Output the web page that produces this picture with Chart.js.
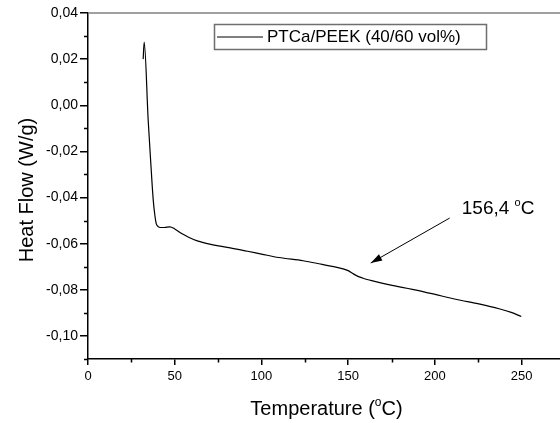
<!DOCTYPE html>
<html>
<head>
<meta charset="utf-8">
<script src="https://cdn.jsdelivr.net/npm/chart.js@4.4.1/dist/chart.umd.min.js"></script>
<style>
  html, body { margin: 0; padding: 0; background: #fff; overflow: hidden; }
  #wrap { position: relative; width: 580px; height: 423px; }
</style>
</head>
<body>
<div id="wrap"><canvas id="dscChart"></canvas></div>
<script>
// DSC curve
const temperature = [31.8, 32.4, 34.7, 36.2, 37.6, 38.6, 39.3, 40.3, 41.8, 44.0, 47.2, 50.0, 54.0, 58.0, 63.0, 72.0, 82.0, 92.0, 100.0, 110.0, 124.0, 134.0, 140.0, 147.0, 150.0, 153.0, 156.0, 159.0, 163.0, 174.0, 187.0, 199.0, 212.0, 226.0, 237.0, 244.0, 249.8];
const heatFlow = [0.0200, 0.0274, -0.0065, -0.0250, -0.0410, -0.0480, -0.0512, -0.0525, -0.0530, -0.0530, -0.0527, -0.0536, -0.0556, -0.0572, -0.0588, -0.0605, -0.0618, -0.0633, -0.0645, -0.0660, -0.0674, -0.0688, -0.0697, -0.0709, -0.0717, -0.0731, -0.0743, -0.0751, -0.0759, -0.0779, -0.0798, -0.0818, -0.0841, -0.0862, -0.0882, -0.0898, -0.0916];

const xTicks = [0, 50, 100, 150, 200, 250];
const xMinorTicks = [25, 75, 125, 175, 225];
const yTicks = [-0.10, -0.08, -0.06, -0.04, -0.02, 0.00, 0.02, 0.04];
const yMinorTicks = [-0.11, -0.09, -0.07, -0.05, -0.03, -0.01, 0.01, 0.03];

const seriesLabel = 'PTCa/PEEK (40/60 vol%)';
const noteText = '156,4 ';
const noteAt = [215.5, -0.0472];
const arrowFrom = [208.5, -0.0489];
const arrowTo = [163, -0.0684];

const FONT = '"Liberation Sans", Arial, sans-serif';

// text with a small raised "o" for the degree sign
function drawDegText(ctx, parts, x, y, size, align) {
    const small = Math.round(size * 0.6);
    ctx.font = size + 'px ' + FONT;
    const w1 = ctx.measureText(parts[0]).width;
    const w3 = ctx.measureText(parts[1]).width;
    ctx.font = small + 'px ' + FONT;
    const w2 = ctx.measureText('o').width;
    let start = x;
    if (align === 'center') start = x - (w1 + w2 + w3) / 2;
    ctx.textAlign = 'left';
    ctx.textBaseline = 'alphabetic';
    ctx.fillText('o', start + w1, y - size * 0.45);
    ctx.font = size + 'px ' + FONT;
    ctx.fillText(parts[0], start, y);
    ctx.fillText(parts[1], start + w1 + w2, y);
}

const decorations = {
    id: 'decorations',
    beforeDatasetsDraw(chart) {
        const { ctx, chartArea: a } = chart;
        ctx.save();
        ctx.strokeStyle = '#808080';
        ctx.lineWidth = 1.5;
        ctx.beginPath();
        ctx.moveTo(a.left, a.top);
        ctx.lineTo(a.right + 5, a.top);
        ctx.stroke();
        ctx.restore();
    },
    afterDraw(chart) {
        const { ctx, chartArea: a, scales: { x, y } } = chart;
        ctx.save();
        ctx.strokeStyle = '#000';
        ctx.lineWidth = 1.5;

        // minor ticks
        ctx.beginPath();
        xMinorTicks.forEach(v => {
            const px = Math.round(x.getPixelForValue(v)) + 0.5;
            ctx.moveTo(px, a.bottom);
            ctx.lineTo(px, a.bottom + 3.5);
        });
        yMinorTicks.forEach(v => {
            const py = Math.round(y.getPixelForValue(v)) + 0.5;
            ctx.moveTo(a.left, py);
            ctx.lineTo(a.left - 4, py);
        });
        ctx.stroke();

        // legend box
        ctx.strokeStyle = '#6e6e6e';
        ctx.lineWidth = 1.5;
        ctx.strokeRect(214.5, 24.5, 272, 25);
        ctx.strokeStyle = '#000';
        ctx.lineWidth = 1;
        ctx.beginPath();
        ctx.moveTo(217, 37);
        ctx.lineTo(263, 37);
        ctx.stroke();
        ctx.fillStyle = '#000';
        ctx.font = '17px ' + FONT;
        ctx.textAlign = 'left';
        ctx.textBaseline = 'middle';
        ctx.fillText(chart.data.datasets[0].label, 267, 37.5);

        // arrow + note
        const x1 = x.getPixelForValue(arrowFrom[0]), y1 = y.getPixelForValue(arrowFrom[1]);
        const x2 = x.getPixelForValue(arrowTo[0]), y2 = y.getPixelForValue(arrowTo[1]);
        ctx.beginPath();
        ctx.moveTo(x1, y1);
        ctx.lineTo(x2, y2);
        ctx.stroke();
        const ang = Math.atan2(y2 - y1, x2 - x1);
        ctx.beginPath();
        ctx.moveTo(x2, y2);
        ctx.lineTo(x2 - 12 * Math.cos(ang - 0.3), y2 - 12 * Math.sin(ang - 0.3));
        ctx.lineTo(x2 - 12 * Math.cos(ang + 0.3), y2 - 12 * Math.sin(ang + 0.3));
        ctx.closePath();
        ctx.fill();
        drawDegText(ctx, [noteText, 'C'], x.getPixelForValue(noteAt[0]), y.getPixelForValue(noteAt[1]), 19, 'left');

        // axis titles
        drawDegText(ctx, ['Temperature (', 'C)'], (a.left + a.right) / 2, 415, 20, 'center');
        ctx.save();
        ctx.translate(33, 190);
        ctx.rotate(-Math.PI / 2);
        ctx.font = '20px ' + FONT;
        ctx.textAlign = 'center';
        ctx.textBaseline = 'alphabetic';
        ctx.fillText('Heat Flow (W/g)', 0, 0);
        ctx.restore();

        ctx.restore();
    }
};

const ctx = document.getElementById('dscChart').getContext('2d');
new Chart(ctx, {
    type: 'line',
    data: {
        datasets: [{
            label: seriesLabel,
            data: temperature.map((t, i) => ({ x: t, y: heatFlow[i] })),
            borderColor: '#000',
            borderWidth: 1.2,
            pointRadius: 0,
            cubicInterpolationMode: 'monotone',
            fill: false
        }]
    },
    options: {
        responsive: true,
        maintainAspectRatio: false,
        animation: false,
        layout: { padding: { top: 13, right: 15, left: 0, bottom: 0 } },
        plugins: { legend: { display: false }, tooltip: { enabled: false } },
        scales: {
            x: {
                type: 'linear',
                min: 0,
                max: 275,
                afterBuildTicks: s => { s.ticks = xTicks.map(v => ({ value: v })); },
                afterFit: s => { s.height = 64; },
                grid: { drawOnChartArea: false, tickLength: 6, color: '#000', lineWidth: 1.5 },
                border: { color: '#000', width: 1.5 },
                ticks: { color: '#000', font: { family: FONT, size: 13 }, padding: 4, maxRotation: 0 }
            },
            y: {
                type: 'linear',
                min: -0.11,
                max: 0.04,
                afterBuildTicks: s => { s.ticks = yTicks.map(v => ({ value: v })); },
                afterFit: s => { s.width = 88; },
                grid: { drawOnChartArea: false, tickLength: 8, color: '#000', lineWidth: 1.5 },
                border: { color: '#000', width: 1.5 },
                ticks: {
                    color: '#000',
                    font: { family: FONT, size: 14 },
                    padding: 2,
                    callback: v => v.toFixed(2).replace('.', ',')
                }
            }
        }
    },
    plugins: [decorations]
});
</script>
</body>
</html>
